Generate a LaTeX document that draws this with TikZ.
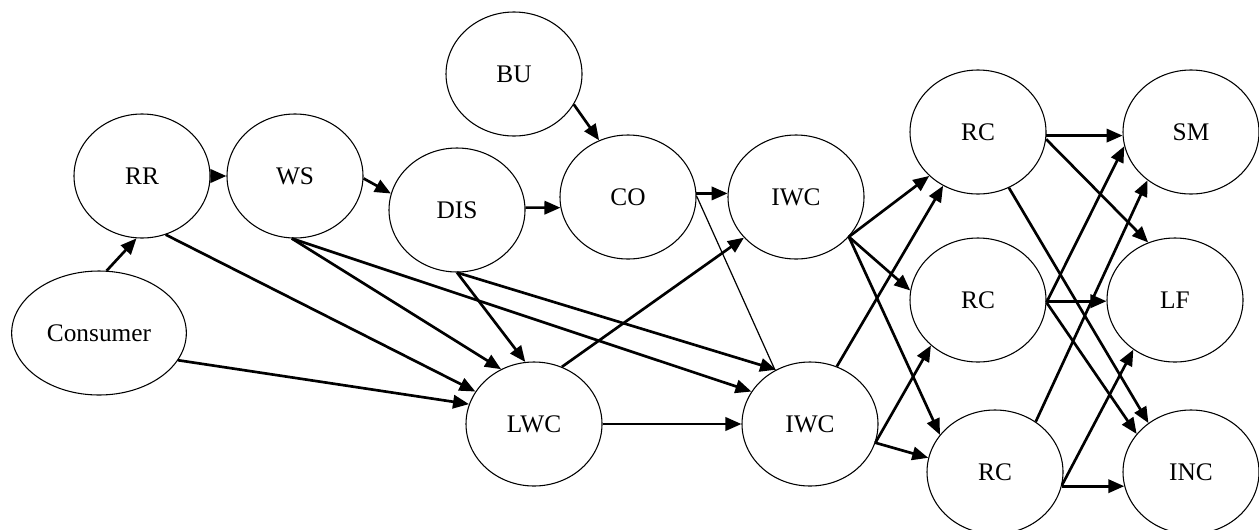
\documentclass[tikz,border=0pt]{standalone}
\usepackage{fontspec}
\setmainfont{Liberation Serif}
\usepackage{tikz}
\usetikzlibrary{arrows.meta}
\usetikzlibrary{shapes.geometric}

\begin{document}
\begin{tikzpicture}[x=0.75pt,y=-0.75pt,font=\fontsize{19}{22}\selectfont]
\tikzstyle{actor}=[ellipse,draw,line width=0.8pt,minimum width=102pt,minimum height=93pt,inner sep=0pt]
\tikzstyle{flow}=[line width=2pt,-{Triangle[length=12pt,width=10pt]}]
\useasboundingbox (0,0) rectangle (1259,529);
% left part
\node[actor] (bu) at (514,74) {BU};
\node[actor] (rr) at (142,176) {RR};
\node[actor] (ws) at (295,176) {WS};
\node[actor] (dis) at (457,210) {DIS};
\node[actor] (co) at (628,197) {CO};
\node[actor,minimum width=131pt] (con) at (99,333) {Consumer};
\node[actor] (lwc) at (534,424) {LWC};
% middle part
\node[actor] (iwc1) at (796,197) {IWC};
\node[actor] (iwc2) at (810,424) {IWC};
% right part
\node[actor] (rc1) at (978,132) {RC};
\node[actor] (rc2) at (978,300) {RC};
\node[actor] (rc3) at (995,472) {RC};
\node[actor] (sm) at (1191,132) {SM};
\node[actor] (lf) at (1175,300) {LF};
\node[actor] (inc) at (1191,472) {INC};

\draw[flow] (con.83) -- (rr.-95);
\draw[flow] (con.-19) -- (lwc.163);
\draw[flow] (rr.east) -- (ws.west);
\draw[flow] (rr.-68) -- (lwc.151);
\draw[flow] (ws.-2) -- (dis.166);
\draw[flow] (ws.-93) -- (lwc.121);
\draw[flow] (ws.-93) -- (iwc2.151);
\draw[flow] (dis.-90) -- (lwc.98);
\draw[flow] (dis.-90) -- (iwc2.122);
\draw[flow] (dis.2) -- (co.189);
\draw[flow] (bu.-27) -- (co.117);
\draw[flow] (co.3) -- (iwc1.177);
\draw[line width=0.9pt] (co.1) -- (iwc2.123);
\draw[flow] (lwc.64) -- (iwc1.-142);
\draw[flow] (lwc.east) -- (iwc2.west);

\draw[flow] (iwc1.-37) -- (rc1.-138);
\draw[flow] (iwc1.-37) -- (rc2.172);
\draw[flow] (iwc1.-37) -- (rc3.146);
\draw[flow] (iwc2.65) -- (rc1.-123);
\draw[flow] (iwc2.-16) -- (rc2.-136);
\draw[flow] (iwc2.-16) -- (rc3.168);

\draw[flow] (rc1.-3) -- (sm.183);
\draw[flow] (rc1.-6) -- (lf.115);
\draw[flow] (rc1.-61) -- (inc.131);
\draw[flow] (rc2.-2) -- (sm.-168);
\draw[flow] (rc2.-1) -- (lf.181);
\draw[flow] (rc2.-2) -- (inc.145);
\draw[flow] (rc3.51) -- (sm.-132);
\draw[flow] (rc3.-11) -- (lf.-130);
\draw[flow] (rc3.-12) -- (inc.-168);
\end{tikzpicture}
\end{document}
